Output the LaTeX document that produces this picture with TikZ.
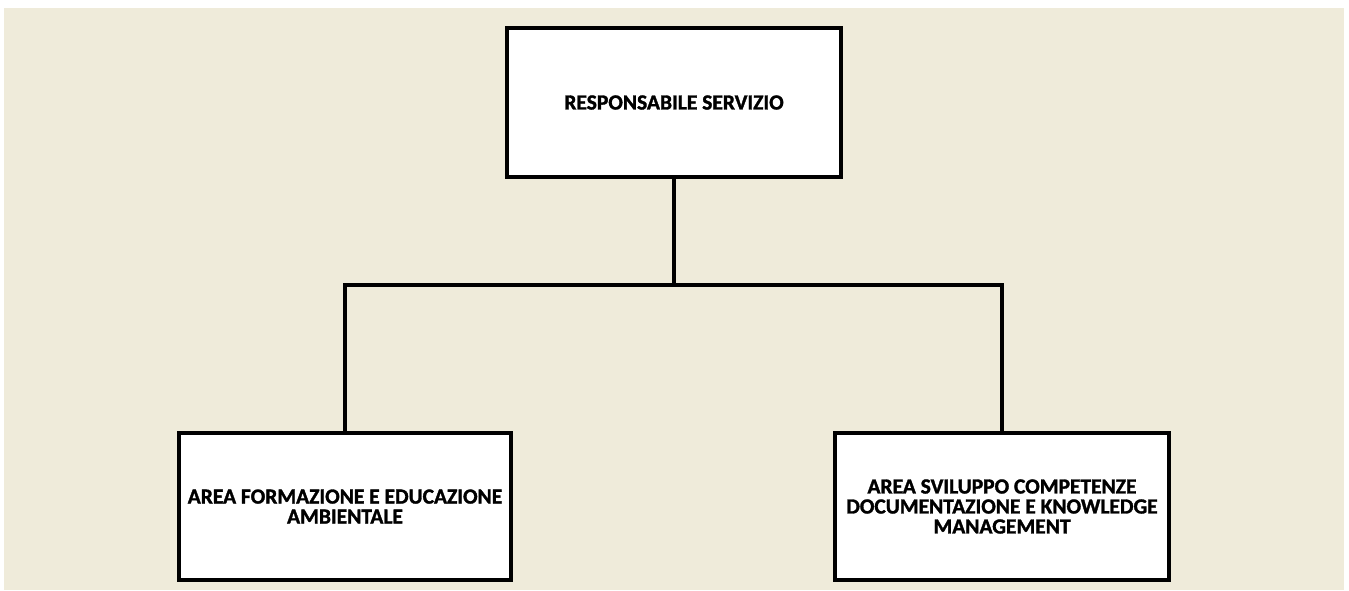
\documentclass[tikz,border=0pt]{standalone}
\usepackage{fontspec}
\setmainfont{Carlito}[BoldFeatures={FakeBold=1.5}]
\definecolor{beige}{RGB}{239,235,218}
\tikzset{
  orgbox/.style={draw=black, fill=white, line width=4pt, rectangle, align=center,
    font=\bfseries\fontsize{21.5}{20}\selectfont, inner sep=0pt},
  link/.style={draw=black, line width=4pt}
}
\begin{document}
\begin{tikzpicture}[x=1pt,y=-1pt]
\fill[white] (0,0) rectangle (1349,590);
\useasboundingbox (0,0) rectangle (1349,590);
\fill[beige] (4,8) rectangle (1344,590);
\node[orgbox, minimum width=334pt, minimum height=149pt] (top) at (674,102.5) {RESPONSABILE SERVIZIO};
\node[orgbox, minimum width=332pt, minimum height=147pt] (left) at (345,506.5) {AREA FORMAZIONE E EDUCAZIONE\\AMBIENTALE};
\node[orgbox, minimum width=334pt, minimum height=147pt] (right) at (1002,506.5) {AREA SVILUPPO COMPETENZE\\DOCUMENTAZIONE E KNOWLEDGE\\MANAGEMENT};
\coordinate (j) at (674,285);
\draw[link] (top.south) -- (j);
\draw[link, line join=miter] (left.north) |- (j) -| (right.north);
\end{tikzpicture}
\end{document}
